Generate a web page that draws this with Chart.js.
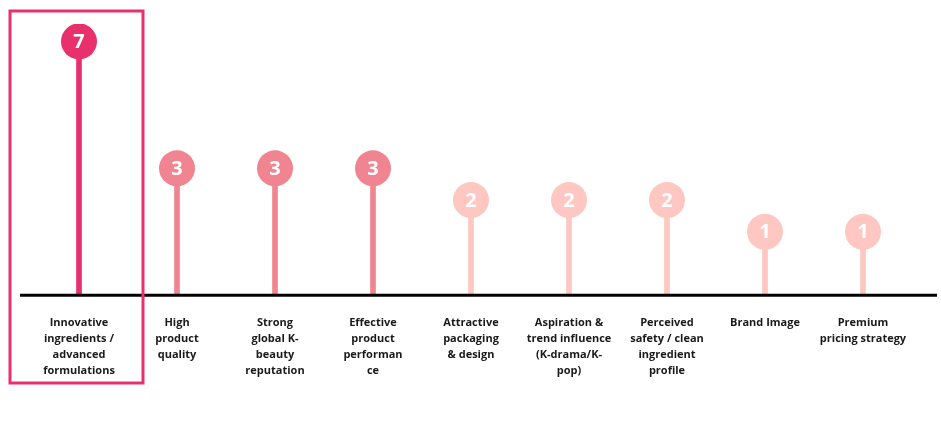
<!DOCTYPE html>
<html>
<head>
<meta charset="utf-8">
<script src="https://cdn.jsdelivr.net/npm/chart.js@4.4.0/dist/chart.umd.min.js"></script>
<style>
  html, body { margin: 0; padding: 0; background: #fff; }
  #wrap { width: 941px; height: 424px; position: relative; }
</style>
</head>
<body>
<div id="wrap"><canvas id="myChart"></canvas></div>
<script>
// categories (multi-line labels as shown under the axis)
const categories = [
    ['Innovative', 'ingredients /', 'advanced', 'formulations'],
    ['High', 'product', 'quality'],
    ['Strong', 'global K-', 'beauty', 'reputation'],
    ['Effective', 'product', 'performan', 'ce'],
    ['Attractive', 'packaging', '& design'],
    ['Aspiration &', 'trend influence', '(K-drama/K-', 'pop)'],
    ['Perceived', 'safety / clean', 'ingredient', 'profile'],
    ['Brand Image'],
    ['Premium', 'pricing strategy']
];
const counts = [7, 3, 3, 3, 2, 2, 2, 1, 1];

function colorFor(v) {
    if (v >= 5) return '#E8306C';
    if (v >= 3) return '#F08591';
    return '#FEC7C2';
}
const colors = counts.map(colorFor);

// draws the base line, the number inside each circle and the highlight box
const decorations = {
    id: 'decorations',
    afterDatasetsDraw(chart) {
        const ctx = chart.ctx;
        const x = chart.scales.x;
        const y = chart.scales.y;
        const area = chart.chartArea;
        const baseY = y.getPixelForValue(-1);

        ctx.save();
        // axis line
        ctx.strokeStyle = '#000';
        ctx.lineWidth = 3;
        ctx.beginPath();
        ctx.moveTo(area.left - 10, baseY);
        ctx.lineTo(area.right + 25, baseY);
        ctx.stroke();

        // numbers
        const meta = chart.getDatasetMeta(1);
        ctx.fillStyle = '#fff';
        ctx.font = 'bold 20px "Open Sans", sans-serif';
        ctx.textAlign = 'center';
        ctx.textBaseline = 'middle';
        meta.data.forEach((pt, i) => {
            ctx.fillText(String(counts[i]), pt.x, pt.y + 1);
        });

        // highlight box around the top category
        const c0 = x.getPixelForValue(0);
        const c1 = x.getPixelForValue(1);
        const half = (c1 - c0) / 2;
        ctx.strokeStyle = '#E8306C';
        ctx.lineWidth = 3;
        ctx.strokeRect(c0 - half - 20, area.top - 13, 2 * half + 35, 372);
        ctx.restore();
    }
};

const ctx = document.getElementById('myChart').getContext('2d');
const chart = new Chart(ctx, {
    type: 'bar',
    data: {
        labels: categories,
        datasets: [
            {
                type: 'bar',
                data: counts,
                base: -1,
                backgroundColor: colors,
                barThickness: 5,
                order: 2
            },
            {
                type: 'line',
                data: counts,
                showLine: false,
                pointRadius: 18,
                pointHoverRadius: 18,
                pointBackgroundColor: colors,
                pointBorderWidth: 0,
                order: 1
            }
        ]
    },
    plugins: [decorations],
    options: {
        responsive: true,
        maintainAspectRatio: false,
        animation: false,
        layout: { padding: { left: 30, right: 29, top: 24, bottom: 25 } },
        plugins: {
            legend: { display: false },
            tooltip: { enabled: false }
        },
        scales: {
            x: {
                grid: { display: false, drawTicks: false },
                border: { display: false },
                ticks: {
                    padding: 20,
                    maxRotation: 0,
                    autoSkip: false,
                    color: '#1a1a1a',
                    font: { family: '"Open Sans", sans-serif', size: 11, weight: 'bold', lineHeight: 1.45 }
                }
            },
            y: {
                display: false,
                min: -1,
                max: 7.55
            }
        }
    }
});
</script>
</body>
</html>
